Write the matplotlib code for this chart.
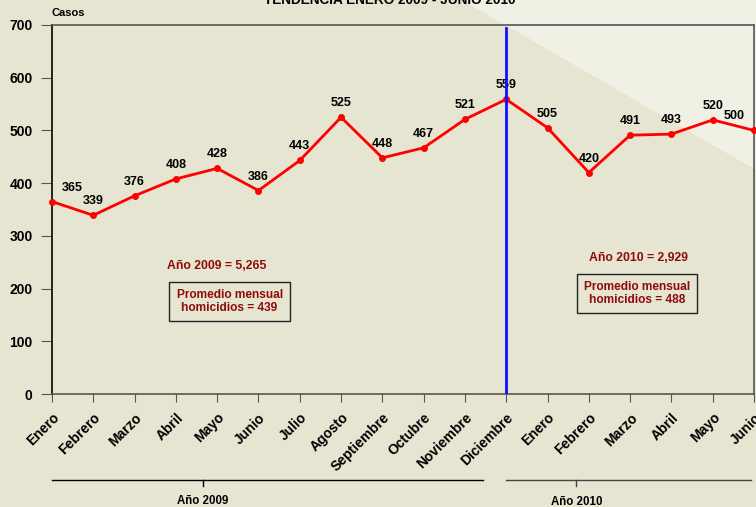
import matplotlib
matplotlib.use("Agg")
from matplotlib import pyplot as plt
from matplotlib.patches import Polygon
import matplotlib.transforms as mtransforms

plt.rcParams['font.family'] = ['Liberation Sans', 'DejaVu Sans']
plt.rcParams['font.weight'] = 'bold'

meses = ["Enero", "Febrero", "Marzo", "Abril", "Mayo", "Junio", "Julio", "Agosto",
         "Septiembre", "Octubre", "Noviembre", "Diciembre",
         "Enero", "Febrero", "Marzo", "Abril", "Mayo", "Junio"]
casos = [365, 339, 376, 408, 428, 386, 443, 525, 448, 467, 521, 559,
         505, 420, 491, 493, 520, 500]
yticks = [0, 100, 200, 300, 400, 500, 600, 700]

bg = "#e6e5d1"
light = "#f0f0e4"
dark_red = "#900a0a"

fig = plt.figure(figsize=(7.56, 5.07), dpi=100, facecolor=bg)

# lighter diagonal band in the upper-right corner (behind everything)
fig.patches.append(Polygon([(462 / 756, 1), (1, 1), (1, 1 - 170 / 507)], closed=True,
                           transform=fig.transFigure, facecolor=light, edgecolor="none",
                           zorder=-5))

ax = fig.add_axes([52 / 756, 1 - 394 / 507, 702 / 756, 369 / 507])
ax.set_facecolor("none")

x = list(range(len(casos)))
ax.plot(x, casos, color="red", lw=2, marker="o", ms=4, zorder=3, clip_on=False)
ax.axvline(11, ymin=0, ymax=0.992, color="#1010ff", lw=2, zorder=4)

for i, v in enumerate(casos):
    dx = 0
    if i == 0:
        dx = 20
    elif i == len(casos) - 1:
        dx = -20
    ax.annotate(str(v), (i, v), xytext=(dx, 8), textcoords="offset pixels",
                ha="center", va="bottom", fontsize=9, fontweight="bold")

ax.set_xlim(0, 17)
ax.set_ylim(0, 700)
ax.set_yticks(yticks)
ax.set_yticklabels([str(t) for t in yticks], fontsize=10, fontweight="bold")
ax.set_xticks(x)
ax.set_xticklabels(meses, rotation=45, ha="right", rotation_mode="anchor",
                   fontsize=10, fontweight="bold")
ax.tick_params(axis="y", direction="out", length=8, color="#555555", pad=6)
ax.tick_params(axis="x", direction="out", length=6, color="#555555", pad=6)

ax.spines["left"].set_color("black")
ax.spines["bottom"].set_color("#555555")
ax.spines["top"].set_color("#555555")
ax.spines["right"].set_color("#555555")
for s in ax.spines.values():
    s.set_linewidth(1.2)

ax.text(0, 1.02, "Casos", transform=ax.transAxes, fontsize=8, fontweight="bold",
        ha="left", va="bottom")

ax.text(4.0, 243, "Año 2009 = 5,265", color=dark_red, fontsize=8.8, fontweight="bold",
        ha="center", va="center")
ax.text(4.3, 175, "Promedio mensual\nhomicidios = 439", color=dark_red, fontsize=8.6,
        fontweight="bold", ha="center", va="center", linespacing=1.1,
        bbox=dict(boxstyle="square,pad=0.6", facecolor="none", edgecolor="#222222", lw=1))
ax.text(14.2, 258, "Año 2010 = 2,929", color=dark_red, fontsize=8.8, fontweight="bold",
        ha="center", va="center")
ax.text(14.17, 190, "Promedio mensual\nhomicidios = 488", color=dark_red, fontsize=8.6,
        fontweight="bold", ha="center", va="center", linespacing=1.1,
        bbox=dict(boxstyle="square,pad=0.6", facecolor="none", edgecolor="#222222", lw=1))

# year brackets below the month labels
tr = mtransforms.blended_transform_factory(ax.transData, fig.transFigure)
yl = 1 - 480 / 507
yt = 1 - 486 / 507
ax.plot([0, 10.44], [yl, yl], color="black", lw=1, transform=tr, clip_on=False)
ax.plot([3.66, 3.66], [yl, yt], color="black", lw=1, transform=tr, clip_on=False)
ax.text(3.66, 1 - 501 / 507, "Año 2009", transform=tr, ha="center", va="center",
        fontsize=8.3, fontweight="bold")
ax.plot([11, 16.93], [yl, yl], color="#444444", lw=1, transform=tr, clip_on=False)
ax.plot([12.7, 12.7], [yl, yt], color="#444444", lw=1, transform=tr, clip_on=False)
ax.text(12.7, 1 - 502 / 507, "Año 2010", transform=tr, ha="center", va="center",
        fontsize=8.3, fontweight="bold")

fig.text(390 / 756, 1 - 4 / 507, "TENDENCIA ENERO 2009 - JUNIO 2010", ha="center",
         va="baseline", fontsize=9.8, fontweight="bold")

fig.savefig("out.png", dpi=100, facecolor=bg)
